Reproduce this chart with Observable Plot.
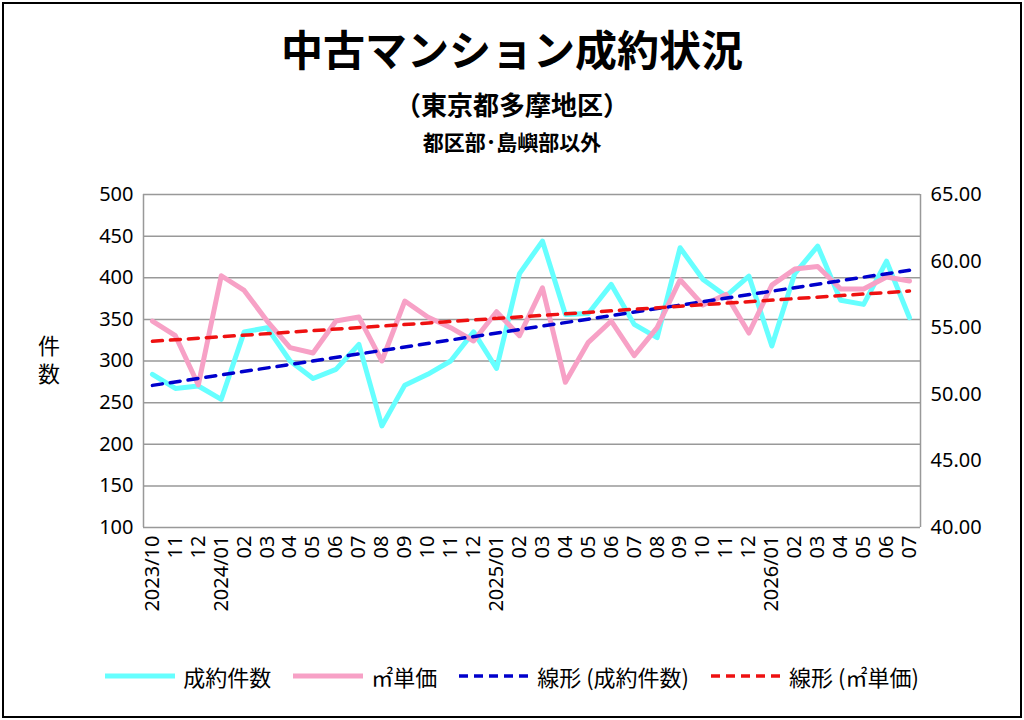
<!DOCTYPE html>
<html><head><meta charset="utf-8">
<script src="https://cdn.jsdelivr.net/npm/d3@7"></script>
<script src="https://cdn.jsdelivr.net/npm/@observablehq/plot@0.6"></script>
<style>
body{margin:0;width:1024px;height:720px;overflow:hidden;font-family:"Noto Sans CJK JP","Noto Sans",sans-serif;background:#fff;position:relative}
#frame{position:absolute;left:2px;top:2px;width:1016px;height:712px;border:2px solid #000;pointer-events:none}
.t1{position:absolute;top:18px;width:1024px;text-align:center;font-size:42px;font-weight:bold;line-height:60px}
.t2{position:absolute;top:86px;width:1024px;text-align:center;font-size:26px;font-weight:bold;line-height:36px}
.t3{position:absolute;top:126px;width:1024px;text-align:center;font-size:21px;font-weight:bold;line-height:30px}
#chart{position:absolute;top:180px;left:0}
#ylab{position:absolute;left:38px;top:330px;font-size:22px;line-height:28px;width:26px}
#legend{position:absolute;top:660px;left:0;width:1024px;display:flex;justify-content:center;gap:22px;font-size:22px;align-items:center}
#legend span{display:flex;align-items:center;gap:8px}
</style></head><body>
<div class="t1">中古マンション成約状況</div>
<div class="t2">（東京都多摩地区）</div>
<div class="t3">都区部･島嶼部以外</div>
<div id="chart"></div>
<div id="ylab">件<br>数</div>
<div id="legend">
<span><svg width="70" height="10"><line x1="0" y1="5" x2="70" y2="5" stroke="#66ffff" stroke-width="5"/></svg>成約件数</span>
<span><svg width="70" height="10"><line x1="0" y1="5" x2="70" y2="5" stroke="#f7a1c6" stroke-width="5"/></svg>㎡単価</span>
<span><svg width="70" height="10"><line x1="0" y1="5" x2="70" y2="5" stroke="#0000cc" stroke-width="3.5" stroke-dasharray="9 6"/></svg>線形 (成約件数)</span>
<span><svg width="70" height="10"><line x1="0" y1="5" x2="70" y2="5" stroke="#ee1111" stroke-width="3.5" stroke-dasharray="9 6"/></svg>線形 (㎡単価)</span>
</div>
<div id="frame"></div>
<script>
const months = ["2023/10","11","12","2024/01","02","03","04","05","06","07","08","09","10","11","12","2025/01","02","03","04","05","06","07","08","09","10","11","12","2026/01","02","03","04","05","06","07"];
const counts = [284,267,270,254,335,340,300,279,290,320,222,271,284,300,335,291,405,444,356,357,392,344,328,436,398,378,402,318,405,438,373,368,420,352];
const unitPrice = [55.5,54.4,50.7,58.9,57.8,55.5,53.5,53.1,55.5,55.8,52.5,57.0,55.8,55.0,54.0,56.2,54.4,58.0,50.9,53.9,55.5,52.9,55.0,58.6,56.7,57.5,54.6,58.2,59.4,59.6,57.9,57.9,58.8,58.5];
const leftTicks = [100,150,200,250,300,350,400,450,500];
const rightTicks = [40,45,50,55,60,65];
const toLeft = v => 100 + (v - 40) * 16;
const cData = counts.map((v,i)=>({i,v}));
const pData = unitPrice.map((v,i)=>({i,v:toLeft(v)}));
const chart = Plot.plot({
  width:1024,height:460,marginTop:14,marginBottom:113,marginLeft:143,marginRight:104,
  style:{fontFamily:"Noto Sans, sans-serif",fontSize:"20px",color:"#000"},
  x:{domain:[-0.39,33.48]},
  y:{domain:[100,500]},
  marks:[
    Plot.gridY(leftTicks,{stroke:"#999",strokeOpacity:1,strokeWidth:1.5}),
    Plot.ruleX([-0.39,33.48],{stroke:"#999",strokeWidth:1.5}),
    Plot.axisY(leftTicks,{anchor:"left",tickSize:0,tickPadding:10,fontSize:20,label:null}),
    Plot.axisY(rightTicks.map(toLeft),{anchor:"right",tickSize:0,tickPadding:10,fontSize:20,label:null,tickFormat:v=>((v-100)/16+40).toFixed(2)}),
    Plot.axisX(d3.range(34),{anchor:"bottom",tickRotate:-90,tickSize:0,tickPadding:8,fontSize:20,label:null,tickFormat:i=>months[i]}),
    Plot.line(cData,{x:"i",y:"v",stroke:"#66ffff",strokeWidth:5}),
    Plot.line(pData,{x:"i",y:"v",stroke:"#f7a1c6",strokeWidth:5}),
    Plot.linearRegressionY(cData,{x:"i",y:"v",stroke:"#0000cc",strokeWidth:3.5,strokeDasharray:"10 8",ci:0}),
    Plot.linearRegressionY(pData,{x:"i",y:"v",stroke:"#ee1111",strokeWidth:3.5,strokeDasharray:"10 8",ci:0})
  ]
});
document.getElementById("chart").appendChild(chart);
</script>
</body></html>
